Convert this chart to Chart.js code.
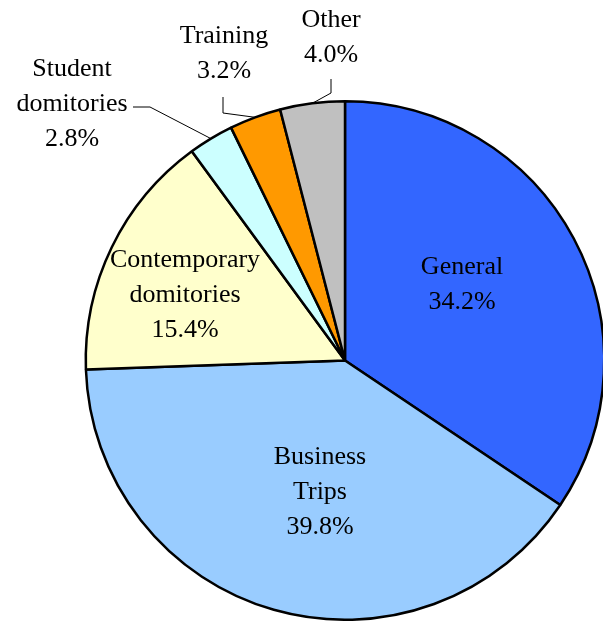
<!DOCTYPE html>
<html>
<head>
<meta charset="utf-8">
<script src="https://cdn.jsdelivr.net/npm/chart.js@4/dist/chart.umd.min.js"></script>
<style>
  html, body { margin: 0; padding: 0; background: #fff; overflow: hidden; }
  #wrap { width: 603px; height: 621px; overflow: hidden; }
</style>
</head>
<body>
<div id="wrap"><canvas id="pie" width="690" height="621"></canvas></div>
<script>
// data
const categories = ["General", "Business Trips", "Contemporary domitories", "Student domitories", "Training", "Other"];
const shares = [34.2, 39.8, 15.4, 2.8, 3.2, 4.0];
const sliceColors = ["#3366FF", "#99CCFF", "#FFFFCC", "#CCFFFF", "#FF9900", "#C0C0C0"];

// label text lines and where they go
const labelLines = [
  ["General"],
  ["Business", "Trips"],
  ["Contemporary", "domitories"],
  ["Student", "domitories"],
  ["Training"],
  ["Other"]
];
const labelPos = [
  { x: 462, y: 274 },
  { x: 320, y: 464 },
  { x: 185, y: 267 },
  { x: 72, y: 76 },
  { x: 224, y: 43 },
  { x: 331, y: 27 }
];
// leader lines for the small slices: [first point, elbow]
const leaders = {
  3: [{ x: 133, y: 107 }, { x: 150, y: 107 }],
  4: [{ x: 223, y: 97 }, { x: 223, y: 113 }],
  5: [{ x: 331, y: 79 }, { x: 331, y: 93 }]
};

const LINE_H = 35;

const labelPlugin = {
  id: "sliceLabels",
  afterDatasetsDraw(chart) {
    const ctx = chart.ctx;
    const meta = chart.getDatasetMeta(0);
    ctx.save();
    ctx.fillStyle = "#000";
    ctx.font = '26px "Liberation Serif", "Times New Roman", serif';
    ctx.textAlign = "center";
    ctx.textBaseline = "alphabetic";

    meta.data.forEach((arc, i) => {
      const p = labelPos[i];
      const lines = labelLines[i].concat([shares[i].toFixed(1) + "%"]);
      lines.forEach((t, k) => ctx.fillText(t, p.x, p.y + k * LINE_H));

      const l = leaders[i];
      if (l) {
        const mid = (arc.startAngle + arc.endAngle) / 2;
        const r = arc.outerRadius;
        ctx.beginPath();
        ctx.strokeStyle = "#000";
        ctx.lineWidth = 1;
        ctx.moveTo(l[0].x, l[0].y);
        ctx.lineTo(l[1].x, l[1].y);
        ctx.lineTo(arc.x + r * Math.cos(mid), arc.y + r * Math.sin(mid));
        ctx.stroke();
      }
    });
    ctx.restore();
  }
};

new Chart(document.getElementById("pie"), {
  type: "pie",
  data: {
    labels: categories,
    datasets: [{
      data: shares,
      backgroundColor: sliceColors,
      borderColor: "#000",
      borderWidth: 2.5
    }]
  },
  options: {
    responsive: false,
    animation: false,
    layout: { padding: { top: 100, bottom: 0, left: 0, right: 0 } },
    plugins: {
      legend: { display: false },
      tooltip: { enabled: false }
    }
  },
  plugins: [labelPlugin]
});
</script>
</body>
</html>
